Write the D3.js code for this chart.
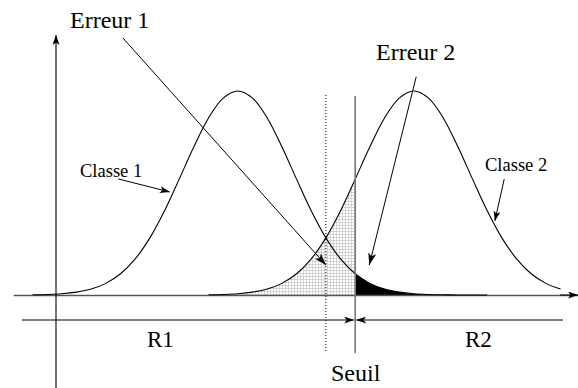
<!DOCTYPE html>
<html>
<head>
<meta charset="utf-8">
<script src="https://cdn.jsdelivr.net/npm/d3@7/dist/d3.min.js"></script>
<style>
  html, body { margin: 0; padding: 0; background: #fff; }
  svg { display: block; }
  text { font-family: "Liberation Serif", "Times New Roman", serif; fill: #000; }
</style>
</head>
<body>
<svg id="chart" width="578" height="388"></svg>
<script>
// Sample positions along the feature axis (step 0.25)
const xGrid = [
  -0.4, -0.15, 0.1, 0.35, 0.6, 0.85, 1.1, 1.35, 1.6, 1.85,
  2.1, 2.35, 2.6, 2.85, 3.1, 3.35, 3.6, 3.85, 4.1, 4.35,
  4.6, 4.85, 5.1, 5.35, 5.6, 5.85, 6.1, 6.35, 6.6, 6.85,
  7.1, 7.35, 7.6, 7.85, 8.1, 8.35, 8.6
];

// Class 1 density (relative height), samples 0..31 of xGrid
const class1 = [
  0.001, 0.0025, 0.006, 0.014, 0.029, 0.057, 0.104, 0.177, 0.280, 0.413,
  0.568, 0.727, 0.868, 0.965, 1.000, 0.965, 0.868, 0.727, 0.568, 0.413,
  0.280, 0.177, 0.104, 0.057, 0.029, 0.014, 0.006, 0.0025, 0.001, 0.0003,
  0.0001, 0
];

// Class 2 density (relative height), samples 12..36 of xGrid
const class2Start = 12;
const class2 = [
  0.001, 0.0025, 0.006, 0.014, 0.029, 0.057, 0.104, 0.177, 0.280, 0.413,
  0.568, 0.727, 0.868, 0.965, 1.000, 0.965, 0.868, 0.727, 0.568, 0.413,
  0.280, 0.177, 0.104, 0.057, 0.029
];

// Decision threshold and the alternative (dotted) threshold
const threshold = 5.1;
const altThreshold = 4.6;

// Labels
const labels = {
  err1: "Erreur 1", err2: "Erreur 2",
  c1: "Classe 1", c2: "Classe 2",
  r1: "R1", r2: "R2", seuil: "Seuil"
};

const svg = d3.select("#chart");

const x = d3.scaleLinear().domain([0, 9]).range([56, 56 + 9 * 58.67]);
const y = d3.scaleLinear().domain([0, 1]).range([295, 91]);

const pts1 = class1.map((v, i) => [xGrid[i], v]);
const pts2 = class2.map((v, i) => [xGrid[i + class2Start], v]);

// markers
const defs = svg.append("defs");
function marker(id, len, wid) {
  defs.append("marker")
    .attr("id", id)
    .attr("viewBox", `0 0 ${len} ${wid}`)
    .attr("refX", len).attr("refY", wid / 2)
    .attr("markerWidth", len).attr("markerHeight", wid)
    .attr("markerUnits", "userSpaceOnUse")
    .attr("orient", "auto")
    .append("path")
    .attr("d", `M0,0 L${len},${wid / 2} L0,${wid} L${len * 0.25},${wid / 2} Z`)
    .attr("fill", "#000");
}
marker("arr", 12, 8);
marker("arrSmall", 10, 7);

// grid pattern for the Erreur 1 region
const pat = defs.append("pattern")
  .attr("id", "grid").attr("width", 3).attr("height", 3)
  .attr("patternUnits", "userSpaceOnUse");
pat.append("rect").attr("width", 3).attr("height", 3).attr("fill", "#fff");
pat.append("path").attr("d", "M0,0.5 H3 M0.5,0 V3")
  .attr("stroke", "#c4c4c4").attr("stroke-width", 0.7);

const area = d3.area().x(d => x(d[0])).y0(y(0)).y1(d => y(d[1])).curve(d3.curveCatmullRom);
const line = d3.line().x(d => x(d[0])).y(d => y(d[1])).curve(d3.curveCatmullRom);

// Erreur 1: class 2 mass left of the threshold
svg.append("path")
  .datum(pts2.filter(d => d[0] <= threshold + 1e-9))
  .attr("d", area).attr("fill", "url(#grid)");

// Erreur 2: class 1 mass right of the threshold
svg.append("path")
  .datum(pts1.filter(d => d[0] >= threshold - 1e-9))
  .attr("d", area).attr("fill", "#000");

// x axis (baseline) with arrow
const xAxisScale = d3.scaleLinear().domain([-0.73, 8.9]).range([x(-0.73), x(8.9)]);
const gx = svg.append("g").attr("transform", `translate(0,${y(0)})`)
  .call(d3.axisBottom(xAxisScale).tickValues([]).tickSizeOuter(0));
gx.select(".domain").attr("stroke", "#555").attr("stroke-width", 1.6);
svg.append("line")
  .attr("x1", 560).attr("x2", 578).attr("y1", y(0)).attr("y2", y(0))
  .attr("stroke", "#000").attr("stroke-width", 1)
  .attr("marker-end", "url(#arrSmall)");

// y axis with arrow
svg.append("line")
  .attr("x1", x(0)).attr("x2", x(0)).attr("y1", 388).attr("y2", 35)
  .attr("stroke", "#000").attr("stroke-width", 1.1)
  .attr("marker-end", "url(#arrSmall)");

// density curves
svg.append("path").datum(pts1).attr("d", line)
  .attr("fill", "none").attr("stroke", "#000").attr("stroke-width", 1.1);
svg.append("path").datum(pts2).attr("d", line)
  .attr("fill", "none").attr("stroke", "#000").attr("stroke-width", 1.1);

// dotted alternative threshold
svg.append("line")
  .attr("x1", x(altThreshold)).attr("x2", x(altThreshold))
  .attr("y1", 95).attr("y2", 352)
  .attr("stroke", "#000").attr("stroke-width", 1)
  .attr("stroke-dasharray", "1,2");

// threshold
svg.append("line")
  .attr("x1", x(threshold)).attr("x2", x(threshold))
  .attr("y1", 96).attr("y2", 353)
  .attr("stroke", "#777").attr("stroke-width", 1.6);

// decision regions R1 / R2
const rY = 320;
svg.append("line")
  .attr("x1", 22).attr("x2", x(threshold) - 1).attr("y1", rY).attr("y2", rY)
  .attr("stroke", "#000").attr("marker-end", "url(#arrSmall)");
svg.append("line")
  .attr("x1", 563).attr("x2", x(threshold) + 1).attr("y1", rY).attr("y2", rY)
  .attr("stroke", "#000").attr("marker-end", "url(#arrSmall)");

// annotation arrows (data coordinates)
function annot(x1, h1, x2, h2, m) {
  svg.append("line")
    .attr("x1", x(x1)).attr("y1", y(h1))
    .attr("x2", x(x2)).attr("y2", y(h2))
    .attr("stroke", "#000").attr("stroke-width", 1)
    .attr("marker-end", `url(#${m})`);
}
annot(1.14, 1.26, 4.6, 0.147, "arr");
annot(6.14, 1.07, 5.34, 0.147, "arr");
annot(1.06, 0.569, 1.94, 0.505, "arrSmall");
annot(7.64, 0.569, 7.48, 0.363, "arrSmall");

// text
function label(t, px, py, size) {
  svg.append("text").attr("x", px).attr("y", py)
    .attr("font-size", size).text(t);
}
label(labels.err1, 70, 28, 24);
label(labels.err2, 376, 60, 24);
label(labels.c1, 80, 177, 18.5);
label(labels.c2, 485, 171, 18.5);
label(labels.r1, 147, 347, 23);
label(labels.r2, 465, 347, 23);
label(labels.seuil, 331, 381, 24);
</script>
</body>
</html>
